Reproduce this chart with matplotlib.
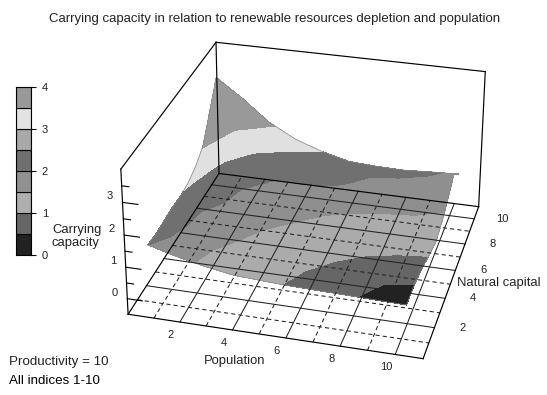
import numpy as np
import matplotlib
matplotlib.use("Agg")
import matplotlib.pyplot as plt

plt.rcParams['font.family'] = ['Liberation Sans', 'DejaVu Sans']

# Chart data
pop_nodes = [1, 2, 3, 4, 5, 6, 7, 8, 9, 10]
cap_nodes = [1, 2, 3, 4, 5, 6, 7, 8, 9, 10]

# height of the drawn surface, one row per natural capital node
surface_height = [
    [1.27, 0.97, 0.72, 0.51, 0.40, 0.30, 0.22, 0.14, 0.06, -0.02],
    [1.27, 1.08, 0.89, 0.73, 0.60, 0.49, 0.40, 0.31, 0.24, 0.20],
    [1.34, 1.18, 1.03, 0.89, 0.77, 0.66, 0.56, 0.46, 0.37, 0.33],
    [1.41, 1.29, 1.18, 1.06, 0.95, 0.84, 0.73, 0.63, 0.52, 0.42],
    [1.41, 1.39, 1.32, 1.22, 1.11, 1.00, 0.90, 0.78, 0.66, 0.50],
    [1.51, 1.53, 1.48, 1.39, 1.28, 1.17, 1.06, 0.95, 0.81, 0.57],
    [1.71, 1.75, 1.68, 1.57, 1.44, 1.33, 1.24, 1.15, 1.07, 0.95],
    [2.04, 2.07, 1.94, 1.76, 1.60, 1.47, 1.39, 1.36, 1.37, 1.41],
    [2.86, 2.57, 2.23, 1.94, 1.72, 1.57, 1.51, 1.52, 1.63, 1.97],
    [3.69, 3.12, 2.47, 2.04, 1.77, 1.58, 1.56, 1.57, 1.65, 1.72],
]
# value that colours the surface, same nodes
carrying_capacity = [
    [2.00, 1.66, 1.41, 1.25, 1.11, 0.95, 0.75, 0.56, 0.37, 0.21],
    [2.22, 1.76, 1.50, 1.35, 1.21, 1.04, 0.87, 0.71, 0.49, 0.43],
    [2.47, 1.87, 1.63, 1.45, 1.30, 1.17, 1.02, 0.86, 0.72, 0.64],
    [2.70, 1.97, 1.74, 1.56, 1.42, 1.29, 1.16, 1.06, 0.96, 0.87],
    [2.93, 2.21, 1.85, 1.69, 1.56, 1.42, 1.30, 1.21, 1.13, 1.06],
    [3.10, 2.49, 1.97, 1.83, 1.69, 1.56, 1.46, 1.37, 1.30, 1.20],
    [3.29, 2.86, 2.37, 1.97, 1.88, 1.78, 1.63, 1.57, 1.51, 1.40],
    [3.52, 3.24, 2.90, 2.44, 2.31, 2.07, 1.84, 1.81, 1.79, 1.63],
    [3.72, 3.58, 3.34, 3.00, 2.60, 2.12, 2.02, 1.95, 1.92, 1.90],
    [3.92, 3.75, 3.56, 3.29, 3.01, 2.53, 2.37, 2.22, 2.07, 1.89],
]

band_edges = [-1, 0.5, 1, 1.5, 2, 3, 3.5, 9]
band_colors = ['#222222', '#666666', '#ababab', '#8f8f8f', '#707070', '#e0e0e0', '#999999']

legend_edges = [0, 0.5, 1, 1.5, 2, 2.5, 3, 3.5, 4]
legend_colors = ['#222222', '#666666', '#aeaeae', '#919191', '#707070', '#a8a8a8', '#e2e2e2', '#999999']
legend_ticks = [0, 1, 2, 3, 4]

pop_ticks = [2, 4, 6, 8, 10]
cap_ticks = [2, 4, 6, 8, 10]
z_ticks = [0, 1, 2, 3]
z_minor = [0.5, 1.5, 2.5, 3.5]

# Axis box: data corners and where they sit in the picture, gives the perspective
box_max = 11
z_floor, z_top = -0.5, 4
box_3d = [(0, 0, z_floor), (box_max, 0, z_floor), (box_max, box_max, z_floor), (0, box_max, z_floor),
          (0, 0, z_top), (0, box_max, z_top), (box_max, box_max, z_top)]
box_px = [(129, 314), (423, 359), (479, 206), (218, 174), (120, 169), (217, 42), (485, 72)]

rows = []
rhs = []
for (x, y, z), (u, v) in zip(box_3d, box_px):
    rows.append([x, y, z, 1, 0, 0, 0, 0, -u * x, -u * y, -u * z])
    rhs.append(u)
    rows.append([0, 0, 0, 0, x, y, z, 1, -v * x, -v * y, -v * z])
    rhs.append(v)
sol = np.linalg.lstsq(np.array(rows, float), np.array(rhs, float), rcond=None)[0]
cam = np.append(sol, 1).reshape(3, 4)


def project(p, c, z):
    p, c, z = np.asarray(p, float), np.asarray(c, float), np.asarray(z, float)
    w = cam[2, 0] * p + cam[2, 1] * c + cam[2, 2] * z + cam[2, 3]
    sx = (cam[0, 0] * p + cam[0, 1] * c + cam[0, 2] * z + cam[0, 3]) / w
    sy = (cam[1, 0] * p + cam[1, 1] * c + cam[1, 2] * z + cam[1, 3]) / w
    return sx, sy


# floor corners under the surface, in (population, natural capital)
foot = np.array([(0.46, 1.10), (9.91, 2.22), (10.62, 8.13), (0.73, 8.71)])

u, v = np.meshgrid((np.array(pop_nodes) - 1) / 9, (np.array(cap_nodes) - 1) / 9)
foot_p = (1 - u) * (1 - v) * foot[0, 0] + u * (1 - v) * foot[1, 0] + u * v * foot[2, 0] + (1 - u) * v * foot[3, 0]
foot_c = (1 - u) * (1 - v) * foot[0, 1] + u * (1 - v) * foot[1, 1] + u * v * foot[2, 1] + (1 - u) * v * foot[3, 1]
X, Y = project(foot_p, foot_c, np.array(surface_height))

fig = plt.figure(figsize=(5.47, 3.95), dpi=100)
ax = fig.add_axes([0, 0, 1, 1])
ax.set_xlim(0, 547)
ax.set_ylim(395, 0)
ax.axis('off')

# Surface
ax.contourf(X, Y, np.array(carrying_capacity), levels=band_edges, colors=band_colors, zorder=2)
edge_x = np.concatenate([X[0, :], X[:, -1], X[-1, ::-1], X[::-1, 0]])
edge_y = np.concatenate([Y[0, :], Y[:, -1], Y[-1, ::-1], Y[::-1, 0]])
ax.plot(edge_x, edge_y, color='#888888', lw=0.5, zorder=3)

# Floor grid goes over the surface, even ticks solid and odd ones dashed
for a in range(1, box_max):
    style = '-' if a % 2 == 0 else (0, (4, 3))
    x, y = project([a, a], [0, box_max], [z_floor, z_floor])
    ax.plot(x, y, color='#222222', lw=0.75, ls=style, zorder=4)
    x, y = project([0, box_max], [a, a], [z_floor, z_floor])
    ax.plot(x, y, color='#222222', lw=0.75, ls=style, zorder=4)

# Box outline
outline = [((0, 0, z_floor), (box_max, 0, z_floor)), ((box_max, 0, z_floor), (box_max, box_max, z_floor)),
           ((box_max, box_max, z_floor), (0, box_max, z_floor)), ((0, box_max, z_floor), (0, 0, z_floor)),
           ((0, 0, z_floor), (0, 0, z_top)), ((0, 0, z_top), (0, box_max, z_top)),
           ((0, box_max, z_top), (box_max, box_max, z_top)), ((box_max, box_max, z_top), (box_max, box_max, z_floor)),
           ((0, box_max, z_top), (0, box_max, z_floor))]
for a, b in outline:
    x, y = project([a[0], b[0]], [a[1], b[1]], [a[2], b[2]])
    ax.plot(x, y, color='black', lw=0.85, zorder=5)

# Height ticks
for t in z_ticks:
    x, y = project([0, 0.58], [0, 0], [t, t])
    ax.plot(x, y, color='black', lw=0.8, zorder=5)
    ax.text(x[0] - 13, y[0] - 6, str(t), ha='center', va='center', fontsize=8, color='#222222')
for t in z_minor:
    x, y = project([0, 0.27], [0, 0], [t, t])
    ax.plot(x, y, color='black', lw=0.8, zorder=5)

for t in pop_ticks:
    x, y = project(t, 0, z_floor)
    ax.text(x - 9, y + 13, str(t), ha='center', va='center', fontsize=8, color='#222222')
for t in cap_ticks:
    x, y = project(box_max, t, z_floor)
    ax.text(x + 28, y, str(t), ha='center', va='center', fontsize=8, color='#222222')

ax.text(274.5, 19, 'Carrying capacity in relation to renewable resources depletion and population',
        ha='center', va='center', fontsize=9.5, color='#222222')
ax.text(235, 361, 'Population', ha='center', va='center', fontsize=9.4, color='#222222')
ax.text(457, 283, 'Natural capital', ha='left', va='center', fontsize=9.4, color='#222222')
ax.text(52, 236.5, 'Carrying\ncapacity', ha='left', va='center', fontsize=9.4, color='#222222', linespacing=1.05)
ax.text(9, 361.5, 'Productivity = 10', ha='left', va='center', fontsize=9.6, color='#222222')
ax.text(9, 381, 'All indices 1-10', ha='left', va='center', fontsize=9.6, color='black')

# Colour key
key = fig.add_axes([16 / 547, 1 - 255 / 395, 15 / 547, 168 / 395])
bottoms = np.array(legend_edges[:-1])
heights = np.diff(legend_edges)
key.bar(0, heights, bottom=bottoms, width=1, color=legend_colors, edgecolor='black', linewidth=0.8)
key.set_xlim(-0.5, 0.5)
key.set_ylim(0, 4)
key.set_xticks([])
key.set_yticks(legend_ticks)
key.yaxis.tick_right()
key.tick_params(axis='y', length=3.8, width=0.8, labelsize=8, pad=4, labelcolor='#222222')
for s in key.spines.values():
    s.set_linewidth(0.8)

fig.savefig('out.png', dpi=100)
